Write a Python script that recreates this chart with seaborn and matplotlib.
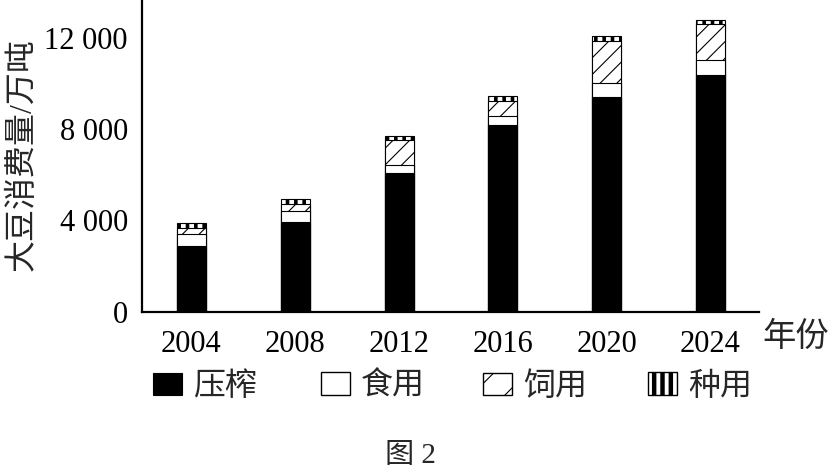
import matplotlib
matplotlib.use("Agg")
import matplotlib.pyplot as plt
import matplotlib.patches as mpatches
import seaborn as sns
import numpy as np

years = ['2004', '2008', '2012', '2016', '2020', '2024']
press = [2900, 3920, 6100, 8170, 9410, 10390]   # 压榨
food = [500, 500, 350, 430, 630, 660]           # 食用
feed = [290, 320, 1080, 650, 1840, 1570]        # 饲用
seed = [210, 200, 190, 190, 190, 170]           # 种用
series_names = ['压榨', '食用', '饲用', '种用']
ytick_vals = [0, 4000, 8000, 12000]
ytick_labels = ['0', '4 000', '8 000', '12 000']

sns.set_style("white")
plt.rcParams['font.family'] = ['Liberation Serif', 'Noto Sans CJK SC']
plt.rcParams['hatch.linewidth'] = 0.8

fig = plt.figure(figsize=(8.29, 4.74), dpi=100)
ax = fig.add_axes([0.1709, 0.3424, 0.745, 0.6576])

c1 = np.array(press)
c2 = c1 + np.array(food)
c3 = c2 + np.array(feed)
c4 = c3 + np.array(seed)

styles = [
    (c4, 'white', '||'),
    (c3, 'white', '//'),
    (c2, 'white', None),
    (c1, 'black', None),
]
for vals, col, hatch in styles:
    n_before = len(ax.patches)
    kw = dict(x=years, y=vals, color=col, saturation=1, width=0.28, ax=ax,
              edgecolor='black', linewidth=0.8, errorbar=None)
    if hatch:
        kw['hatch'] = hatch
    sns.barplot(**kw)
    if hatch == '||':
        for p in ax.patches[n_before:]:
            if hasattr(p, 'set_hatch_linewidth'):
                p.set_hatch_linewidth(2.6)

ax.set_xlim(-0.48, 5.47)
ax.set_ylim(0, 13670)
ax.set_yticks(ytick_vals)
ax.set_yticklabels(ytick_labels)
ax.set_xlabel('')
ax.set_ylabel('')
for s in ['top', 'right']:
    ax.spines[s].set_visible(False)
for s in ['left', 'bottom']:
    ax.spines[s].set_linewidth(1.6)
    ax.spines[s].set_color('black')
ax.tick_params(axis='x', length=0, pad=13, labelsize=22, colors='black')
ax.tick_params(axis='y', direction='in', length=7, width=1.5, pad=10,
               labelsize=22, colors='black')

fig.text(0.027, 1 - 155 / 474, '大豆消费量/万吨', rotation=90, ha='center',
         va='center', fontsize=23)
fig.text(762 / 829, 1 - 337 / 474, '年份', ha='left', va='center', fontsize=24)
fig.text(410 / 829, 1 - 456 / 474, '图 2', ha='center', va='center', fontsize=21)

h1 = mpatches.Patch(facecolor='black', edgecolor='black', linewidth=0.8)
h2 = mpatches.Patch(facecolor='white', edgecolor='black', linewidth=1.0)
h3 = mpatches.Patch(facecolor='white', edgecolor='black', linewidth=1.0, hatch='/')
with plt.rc_context({'hatch.linewidth': 3.2}):
    h4 = mpatches.Patch(facecolor='white', edgecolor='black', linewidth=1.0, hatch='||')
handles = [h1, h2, h3, h4]
starts = [153, 321, 483, 648]
for i, (h, name, xs) in enumerate(zip(handles, series_names, starts)):
    hl = 3.2 if i == 3 else 0.8
    with plt.rc_context({'hatch.linewidth': hl}):
        leg = fig.legend([h], [name], loc='center left',
                         bbox_to_anchor=(xs / 829, 1 - 387 / 474), frameon=False,
                         fontsize=23, handlelength=0.92, handleheight=0.69,
                         handletextpad=0.33, borderpad=0, borderaxespad=0)
        if i == 3:
            for p in leg.get_patches():
                if hasattr(p, 'set_hatch_linewidth'):
                    p.set_hatch_linewidth(3.2)

fig.savefig('out.png', dpi=100)
